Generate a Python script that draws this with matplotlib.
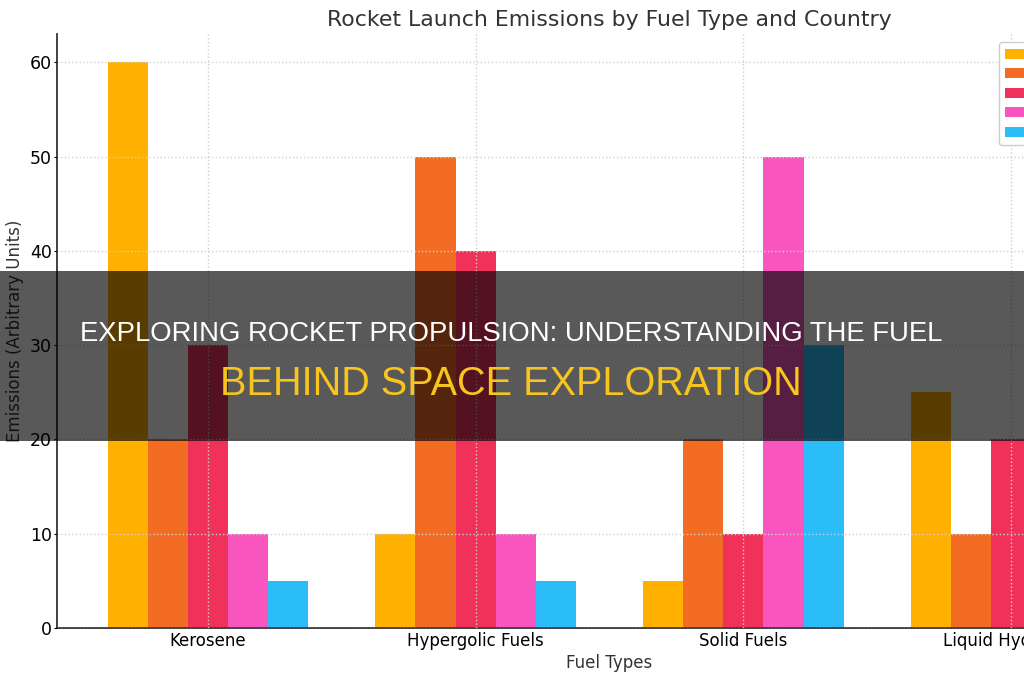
import numpy as np
import matplotlib
matplotlib.use("Agg")
import matplotlib.pyplot as plt
from matplotlib.patches import Rectangle

fuel_types = ["Kerosene", "Hypergolic Fuels", "Solid Fuels", "Liquid Hydrogen"]
countries = ["USA", "Russia", "China", "Europe", "India"]
usa = [60, 10, 5, 25]
russia = [20, 50, 20, 10]
china = [30, 40, 10, 20]
europe = [10, 10, 50, 15]
india = [5, 5, 30, 35]
series = [usa, russia, china, europe, india]
colors = ["#FFB000", "#F26C23", "#F0325A", "#F856BE", "#2BBDF7"]

W, H = 1024, 680
fig = plt.figure(figsize=(W / 100, H / 100), dpi=100)
# the original axes run past the right edge of the picture
ax = fig.add_axes([57 / W, 1 - 628 / H, (1162 - 57) / W, (628 - 34) / H])

x = np.arange(len(fuel_types))
width = 0.15
for i, (vals, c, name) in enumerate(zip(series, colors, countries)):
    ax.bar(x + (i - 2) * width, vals, width, color=c, label=name)

ax.set_xlim(-0.5645, 3.5645)
ax.set_ylim(0, 63)
ax.set_xticks(x)
ax.set_xticklabels(fuel_types, fontsize=12)
ax.set_yticks(range(0, 61, 10))
ax.tick_params(axis="y", labelsize=12.5, length=2, pad=1.5)
ax.tick_params(axis="x", length=0, pad=3)
ax.set_xlabel("Fuel Types", fontsize=12, color="#333333", labelpad=3)
ax.set_ylabel("Emissions (Arbitrary Units)", fontsize=12, color="#333333", labelpad=4)
ax.set_title("Rocket Launch Emissions by Fuel Type and Country",
             fontsize=15.8, color="#333333", pad=6)
ax.grid(True, linestyle=":", color="#cfcfcf", linewidth=1)
ax.set_axisbelow(False)
for s in ["top", "right"]:
    ax.spines[s].set_visible(False)
for s in ["left", "bottom"]:
    ax.spines[s].set_color("#333333")
    ax.spines[s].set_linewidth(1.3)

ax.legend(loc="upper left", bbox_to_anchor=(999 / W, 1 - 42 / H),
          bbox_transform=fig.transFigure, fontsize=10, borderaxespad=0,
          labelspacing=0.4, framealpha=1, edgecolor="#cccccc")

# dark banner with headline
fig.patches.append(Rectangle((0, 1 - 441 / H), 1, 170 / H, transform=fig.transFigure,
                             facecolor="black", alpha=0.65, zorder=10))
fig.text(511 / W, 1 - 334 / H, "EXPLORING ROCKET PROPULSION: UNDERSTANDING THE FUEL",
         ha="center", va="center", color="white", fontsize=19.8,
         family="Liberation Sans", zorder=11)
fig.text(511 / W, 1 - 384 / H, "BEHIND SPACE EXPLORATION",
         ha="center", va="center", color="#F7C51E", fontsize=28.5,
         family="Liberation Sans", zorder=11)

fig.savefig("out.png", dpi=100)
